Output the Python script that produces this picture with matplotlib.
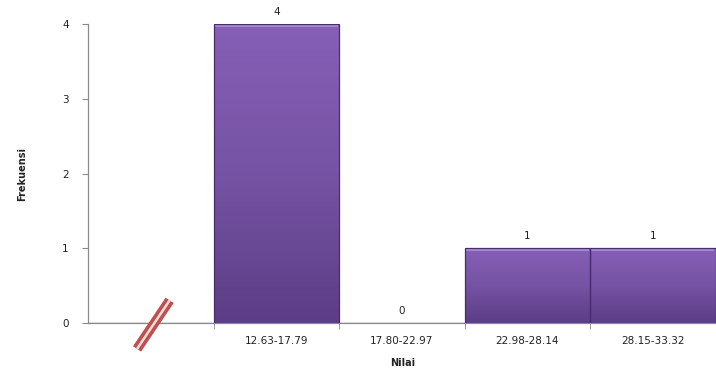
#!/usr/bin/env python3
"""Frequency histogram of Nilai with an axis-break marker."""

import matplotlib.pyplot as plt
import numpy as np
from matplotlib.colors import LinearSegmentedColormap

categories = ["", "12.63-17.79", "17.80-22.97", "22.98-28.14", "28.15-33.32"]
frequencies = [None, 4, 0, 1, 1]
y_ticks = [0, 1, 2, 3, 4]

plt.rcParams["font.family"] = ["DejaVu Sans"]

fig = plt.figure(figsize=(7.16, 3.71), dpi=100)
ax = fig.add_axes([0.123, 0.129, 0.880, 0.806])

positions = np.arange(len(categories))
heights = [0 if f is None else f for f in frequencies]

grad = LinearSegmentedColormap.from_list("purp", ["#5c3d86", "#7653a4", "#865fb6"])
bars = ax.bar(positions, heights, width=1.0, color="#7552a3", linewidth=0, zorder=2)
for bar, h in zip(bars, heights):
    if h <= 0:
        continue
    x0, w = bar.get_x(), bar.get_width()
    img = ax.imshow(np.linspace(0, 1, 100).reshape(-1, 1), cmap=grad, aspect="auto",
                    origin="lower", extent=(x0, x0 + w, 0, h), zorder=2.5)
    img.set_clip_path(bar)
    # light top edge
    ax.plot([x0 + 0.01, x0 + w - 0.01], [h - 0.02, h - 0.02], color="#a68ad0",
            linewidth=1.5, zorder=3, solid_capstyle="butt")
# outlines on top of the gradient
ax.bar(positions, heights, width=1.0, fill=False, edgecolor="#4a2c6e",
       linewidth=0.9, zorder=3.5)

for pos, f in zip(positions, frequencies):
    if f is None:
        continue
    ax.annotate(str(f), (pos, f), xytext=(0, 5), textcoords="offset points",
                ha="center", va="bottom", fontsize=7.5, color="#222222")

ax.set_xlim(-0.5, len(categories) - 0.48)
ax.set_ylim(0, 4)
ax.set_yticks(y_ticks)
ax.set_xticks(positions)
ax.set_xticklabels(categories, fontsize=7.5, color="#222222")
ax.set_xticks(positions[:-1] + 0.5, minor=True)
ax.tick_params(axis="x", which="major", length=0, pad=9)
ax.tick_params(axis="x", which="minor", length=4, color="#8c8c8c", direction="out")
ax.tick_params(axis="y", length=4, color="#8c8c8c", labelsize=7.5, labelcolor="#222222", pad=10)
for side in ("top", "right"):
    ax.spines[side].set_visible(False)
for side in ("left", "bottom"):
    ax.spines[side].set_color("#8c8c8c")
    ax.spines[side].set_linewidth(0.9)

ax.set_ylabel("Frekuensi", fontsize=7, fontweight="bold", labelpad=25, color="#222222")
ax.set_xlabel("Nilai", fontsize=7, fontweight="bold", labelpad=9, color="#222222")

# axis break marker under the empty first category: two red strips, pale gap
xs = [-0.11, 0.15]
ys = [-0.345, 0.305]
ax.plot(xs, ys, color="#c0504d", linewidth=7.0, clip_on=False, zorder=5,
        solid_capstyle="butt")
ax.plot(xs, ys, color="#f2dedc", linewidth=1.8, clip_on=False, zorder=6,
        solid_capstyle="butt")

fig.savefig("out.png", dpi=100)
